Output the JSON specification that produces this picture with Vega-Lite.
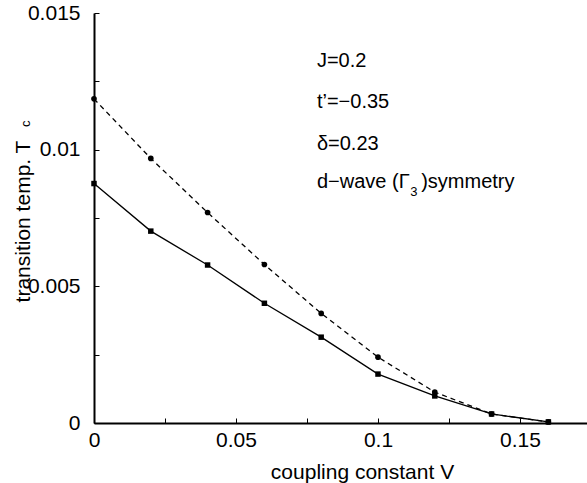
{
  "$schema": "https://vega.github.io/schema/vega-lite/v6.json",
  "width": 493,
  "height": 410,
  "autosize": {"type": "none"},
  "padding": {"left": 94, "top": 13, "right": 0, "bottom": 60},
  "background": "white",
  "view": {"stroke": null},
  "config": {
    "font": "Liberation Sans",
    "axis": {
      "grid": false,
      "domainColor": "black",
      "domainWidth": 2,
      "tickColor": "black",
      "tickWidth": 1,
      "tickSize": -5,
      "labelFont": "Liberation Sans",
      "labelFontSize": 21,
      "labelColor": "black",
      "titleFont": "Liberation Sans",
      "titleFontSize": 21,
      "titleFontWeight": "normal",
      "titleColor": "black"
    }
  },
  "datasets": {
    "curves": [
      {"V": 0.00, "Tc": 0.01186, "series": "circle"},
      {"V": 0.02, "Tc": 0.00968, "series": "circle"},
      {"V": 0.04, "Tc": 0.00770, "series": "circle"},
      {"V": 0.06, "Tc": 0.00580, "series": "circle"},
      {"V": 0.08, "Tc": 0.00401, "series": "circle"},
      {"V": 0.10, "Tc": 0.00241, "series": "circle"},
      {"V": 0.12, "Tc": 0.00113, "series": "circle"},
      {"V": 0.14, "Tc": 0.00033, "series": "circle"},
      {"V": 0.16, "Tc": 0.00004, "series": "circle"},
      {"V": 0.00, "Tc": 0.00876, "series": "square"},
      {"V": 0.02, "Tc": 0.00702, "series": "square"},
      {"V": 0.04, "Tc": 0.00578, "series": "square"},
      {"V": 0.06, "Tc": 0.00438, "series": "square"},
      {"V": 0.08, "Tc": 0.00314, "series": "square"},
      {"V": 0.10, "Tc": 0.00179, "series": "square"},
      {"V": 0.12, "Tc": 0.00099, "series": "square"},
      {"V": 0.14, "Tc": 0.00033, "series": "square"},
      {"V": 0.16, "Tc": 0.00004, "series": "square"}
    ],
    "notes": [
      {"V": 0.0785, "Tc": 0.013024, "label": "J=0.2"},
      {"V": 0.0785, "Tc": 0.011524, "label": "t’=−0.35"},
      {"V": 0.0785, "Tc": 0.009988, "label": "δ=0.23"},
      {"V": 0.0785, "Tc": 0.008598, "label": "d−wave (Γ"},
      {"V": 0.11520, "Tc": 0.008598, "label": ")symmetry"}
    ],
    "small": [
      {"V": 0.11260, "Tc": 0.008451, "label": "3", "angle": 0},
      {"V": -0.0240, "Tc": 0.01095, "label": "c", "angle": 270}
    ]
  },
  "layer": [
    {
      "mark": {"type": "rule", "color": "black", "strokeWidth": 2},
      "encoding": {"y": {"datum": 0.015, "type": "quantitative"}}
    },
    {
      "data": {"name": "curves"},
      "transform": [{"filter": "datum.series === 'circle'"}],
      "mark": {"type": "line", "color": "black", "strokeWidth": 1.3, "strokeDash": [5, 4]},
      "encoding": {
        "x": {
          "field": "V", "type": "quantitative",
          "scale": {"domain": [0, 0.1736], "nice": false, "zero": false},
          "axis": {
            "title": "coupling constant V",
            "values": [0, 0.025, 0.05, 0.075, 0.1, 0.125, 0.15],
            "labelExpr": "abs(round(datum.value*1000) % 50) == 0 ? datum.label : ''",
            "format": "~g",
            "labelPadding": 11,
            "labelFlush": false,
            "titleX": 268,
            "titleY": 55,
            "titleAlign": "center",
            "titleBaseline": "alphabetic"
          }
        },
        "y": {
          "field": "Tc", "type": "quantitative",
          "scale": {"domain": [0, 0.015], "nice": false, "zero": false},
          "axis": {
            "title": "transition temp. T",
            "values": [0, 0.0025, 0.005, 0.0075, 0.01, 0.0125, 0.015],
            "labelExpr": "abs(round(datum.value*10000) % 50) == 0 ? datum.label : ''",
            "format": "~g",
            "labelPadding": 19,
            "labelFlush": false,
            "titleAngle": 270,
            "titleX": -65,
            "titleY": 208,
            "titleAlign": "center",
            "titleBaseline": "alphabetic"
          }
        }
      }
    },
    {
      "data": {"name": "curves"},
      "transform": [{"filter": "datum.series === 'square'"}],
      "mark": {"type": "line", "color": "black", "strokeWidth": 1.3},
      "encoding": {
        "x": {"field": "V", "type": "quantitative"},
        "y": {"field": "Tc", "type": "quantitative"}
      }
    },
    {
      "data": {"name": "curves"},
      "transform": [{"filter": "datum.series === 'circle'"}],
      "mark": {"type": "point", "shape": "circle", "filled": true, "color": "black", "size": 32, "opacity": 1},
      "encoding": {
        "x": {"field": "V", "type": "quantitative"},
        "y": {"field": "Tc", "type": "quantitative"}
      }
    },
    {
      "data": {"name": "curves"},
      "transform": [{"filter": "datum.series === 'square'"}],
      "mark": {"type": "point", "shape": "square", "filled": true, "color": "black", "size": 30, "opacity": 1},
      "encoding": {
        "x": {"field": "V", "type": "quantitative"},
        "y": {"field": "Tc", "type": "quantitative"}
      }
    },
    {
      "data": {"name": "notes"},
      "mark": {"type": "text", "align": "left", "baseline": "alphabetic", "fontSize": 20, "font": "Liberation Sans", "color": "black"},
      "encoding": {
        "x": {"field": "V", "type": "quantitative"},
        "y": {"field": "Tc", "type": "quantitative"},
        "text": {"field": "label"}
      }
    },
    {
      "data": {"name": "small"},
      "mark": {"type": "text", "align": "center", "baseline": "middle", "fontSize": 13, "font": "Liberation Sans", "color": "black", "clip": false},
      "encoding": {
        "x": {"field": "V", "type": "quantitative"},
        "y": {"field": "Tc", "type": "quantitative"},
        "angle": {"field": "angle", "type": "quantitative", "scale": null},
        "text": {"field": "label"}
      }
    }
  ]
}
